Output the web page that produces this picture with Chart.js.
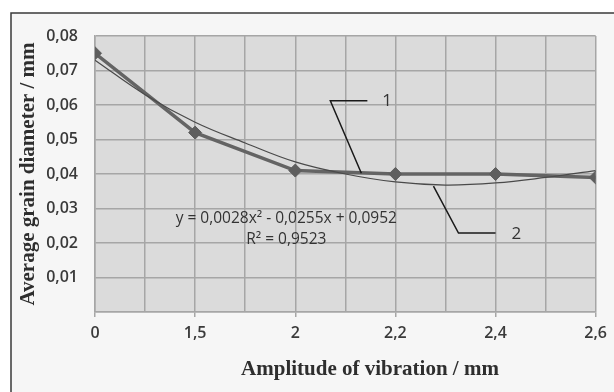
<!DOCTYPE html>
<html>
<head>
<meta charset="utf-8">
<script src="https://cdn.jsdelivr.net/npm/chart.js@4"></script>
<style>
  html, body { margin: 0; padding: 0; background: #fff; }
  #wrap { width: 614px; height: 392px; position: relative; }
</style>
</head>
<body>
<div id="wrap"><canvas id="chart" width="614" height="392"></canvas></div>
<script>
// categories on the x axis (Excel category axis, equally spaced)
const xLabels = ['0', '1,5', '2', '2,2', '2,4', '2,6'];
// measured grain diameter, mm
const grainSize = [0.075, 0.052, 0.041, 0.040, 0.040, 0.039];
// polynomial trendline at every half category
const trendX = [0, 0.5, 1, 1.5, 2, 2.5, 3, 3.5, 4, 4.5, 5];
const trendY = [0.073, 0.063, 0.055, 0.049, 0.0435, 0.040, 0.0377, 0.0368, 0.0374, 0.039, 0.041];
const yTicks = [0, 0.01, 0.02, 0.03, 0.04, 0.05, 0.06, 0.07, 0.08];

const equation = 'y = 0,0028x² - 0,0255x + 0,0952';
const rSquared = 'R² = 0,9523';

// leader lines for the labels "1" and "2", in data units (category index, mm)
const leader1 = [[2.72, 0.0612], [2.35, 0.0612], [2.66, 0.0402]];
const leader2 = [[3.38, 0.0365], [3.63, 0.0229], [4.0, 0.0229]];

const mainPoints = grainSize.map((v, i) => ({ x: i, y: v }));
const trendPoints = trendX.map((x, i) => ({ x: x, y: trendY[i] }));

const decorations = {
  id: 'decorations',
  beforeDraw(chart) {
    const { ctx, chartArea: a } = chart;
    ctx.save();
    // frame + light background
    ctx.fillStyle = '#f6f6f6';
    ctx.fillRect(11, 13, 614 - 11, 392 - 13);
    ctx.strokeStyle = '#3a3a3a';
    ctx.lineWidth = 1.5;
    ctx.beginPath();
    ctx.moveTo(11, 392);
    ctx.lineTo(11, 13);
    ctx.lineTo(614, 13);
    ctx.stroke();
    // plot area
    ctx.fillStyle = '#dbdbdb';
    ctx.fillRect(a.left, a.top, a.right - a.left, a.bottom - a.top);
    ctx.restore();
  },
  afterDraw(chart) {
    const { ctx } = chart;
    const xs = chart.scales.x, ys = chart.scales.y;
    const px = p => [xs.getPixelForValue(p[0]), ys.getPixelForValue(p[1])];
    ctx.save();

    // leader lines
    ctx.strokeStyle = '#1a1a1a';
    ctx.lineWidth = 1.5;
    [leader1, leader2].forEach(line => {
      ctx.beginPath();
      line.forEach((p, i) => {
        const [x, y] = px(p);
        if (i === 0) ctx.moveTo(x, y); else ctx.lineTo(x, y);
      });
      ctx.stroke();
    });

    ctx.fillStyle = '#333';
    ctx.font = '17px "Open Sans"';
    ctx.textAlign = 'left';
    ctx.textBaseline = 'middle';
    let [lx, ly] = px(leader1[0]);
    ctx.fillText('1', lx + 15, ly);
    [lx, ly] = px(leader2[2]);
    ctx.fillText('2', lx + 16, ly + 1);

    // trendline equation
    ctx.font = '15.5px "Open Sans"';
    ctx.textAlign = 'center';
    const [ex, ey] = px([1.91, 0.027]);
    ctx.fillText(equation, ex, ey);
    ctx.fillText(rSquared, ex, ey + 21);

    // axis titles
    ctx.fillStyle = '#2e2e2e';
    ctx.font = 'bold 21px "Liberation Serif"';
    ctx.textAlign = 'center';
    ctx.fillText('Amplitude of vibration / mm', 370, 370);
    ctx.translate(29, (chart.chartArea.top + chart.chartArea.bottom) / 2);
    ctx.rotate(-Math.PI / 2);
    ctx.fillText('Average grain diameter / mm', 0, 0);
    ctx.restore();
  }
};

new Chart(document.getElementById('chart'), {
  type: 'line',
  data: {
    datasets: [
      {
        label: 'trend',
        data: trendPoints,
        borderColor: '#4a4a4a',
        borderWidth: 1.2,
        pointRadius: 0,
        tension: 0.4,
        order: 0
      },
      {
        label: 'grain',
        data: mainPoints,
        borderColor: '#646464',
        borderWidth: 3.5,
        pointStyle: 'rectRot',
        pointRadius: 6.5,
        pointBackgroundColor: '#5e5e5e',
        pointBorderColor: '#5e5e5e',
        pointBorderWidth: 1,
        tension: 0,
        order: 1
      }
    ]
  },
  plugins: [decorations],
  options: {
    responsive: false,
    animation: false,
    events: [],
    layout: { padding: { top: 36, right: 14, left: 0, bottom: 0 } },
    plugins: { legend: { display: false }, tooltip: { enabled: false } },
    scales: {
      x: {
        type: 'linear',
        min: 0,
        max: 5,
        afterBuildTicks(scale) {
          const t = [];
          for (let i = 0; i <= 10; i++) t.push({ value: i / 2 });
          scale.ticks = t;
        },
        afterFit(scale) { scale.height = 80; },
        grid: {
          color: '#a6a6a6',
          lineWidth: 1.5,
          tickLength: 5,
          tickColor: ctx => Number.isInteger(ctx.tick.value) ? '#a6a6a6' : 'rgba(0,0,0,0)'
        },
        border: { color: '#a6a6a6', width: 1.5 },
        ticks: {
          autoSkip: false,
          maxRotation: 0,
          padding: 7,
          color: '#3a3a3a',
          font: { family: 'Open Sans', size: 16, weight: '600' },
          callback: v => Number.isInteger(v) ? xLabels[v] : ''
        }
      },
      y: {
        min: 0,
        max: 0.08,
        afterBuildTicks(scale) {
          scale.ticks = yTicks.map(v => ({ value: v }));
        },
        afterFit(scale) { scale.width = 95; },
        grid: { color: '#a6a6a6', lineWidth: 1.5, drawTicks: false },
        border: { color: '#a6a6a6', width: 1.5 },
        ticks: {
          padding: 17,
          color: '#3a3a3a',
          font: { family: 'Open Sans', size: 16, weight: '600' },
          callback: v => v === 0 ? '' : v.toFixed(2).replace('.', ',')
        }
      }
    }
  }
});
</script>
</body>
</html>
